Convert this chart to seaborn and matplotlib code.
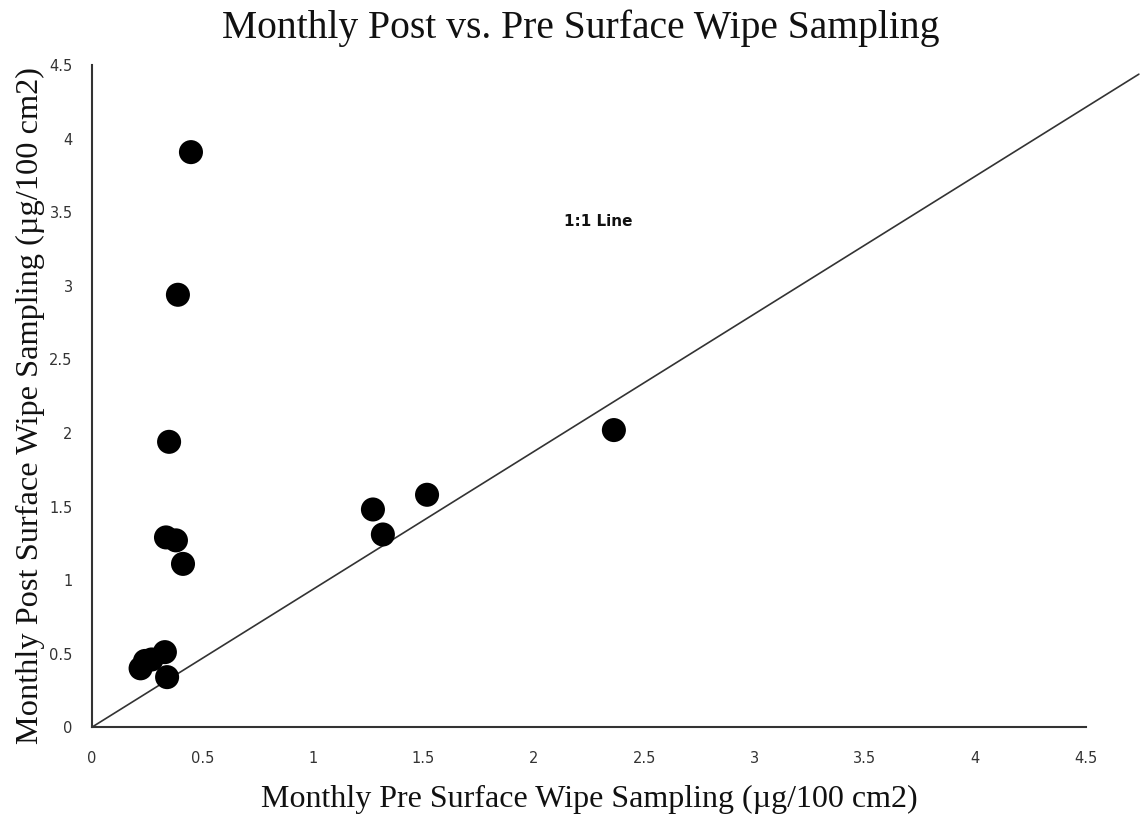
import matplotlib
matplotlib.use("Agg")
import matplotlib.pyplot as plt
import seaborn as sns
import pandas as pd

# Monthly surface wipe results (µg/100 cm2)
pre_values = [0.448, 0.389, 0.349, 0.335, 0.380, 0.412,
              1.272, 1.317, 1.517, 2.363,
              0.220, 0.240, 0.270, 0.330, 0.340]
post_values = [3.91, 2.94, 1.94, 1.29, 1.27, 1.11,
               1.48, 1.31, 1.58, 2.02,
               0.40, 0.45, 0.46, 0.51, 0.34]

# Reference line as drawn on the chart
ref_x = [0.0, 4.74]
ref_y = [0.0, 4.44]

x_ticks = [0, 0.5, 1, 1.5, 2, 2.5, 3, 3.5, 4, 4.5]
y_ticks = [0, 0.5, 1, 1.5, 2, 2.5, 3, 3.5, 4, 4.5]

df = pd.DataFrame({"pre": pre_values, "post": post_values})

sns.set_theme(style="white")
plt.rcParams["font.family"] = ["DejaVu Sans"]

fig = plt.figure(figsize=(11.43, 8.17), dpi=100)
ax = fig.add_axes([0.0805, 0.110, 0.8695, 0.810])

sns.lineplot(x=ref_x, y=ref_y, ax=ax, color="#333333", linewidth=1.2,
             clip_on=False, zorder=2)
sns.scatterplot(data=df, x="pre", y="post", ax=ax, color="black",
                s=300, edgecolor="none", zorder=3, clip_on=False)

ax.set_xlim(0, 4.5)
ax.set_ylim(0, 4.5)
ax.set_xticks(x_ticks)
ax.set_yticks(y_ticks)
ax.set_xticklabels([f"{t:g}" for t in x_ticks], fontsize=10.5, color="#333333")
ax.set_yticklabels([f"{t:g}" for t in y_ticks], fontsize=10.5, color="#333333")
ax.tick_params(axis="x", length=0, pad=17)
ax.tick_params(axis="y", length=0, pad=14)

for side in ["top", "right"]:
    ax.spines[side].set_visible(False)
for side in ["left", "bottom"]:
    ax.spines[side].set_color("#333333")
    ax.spines[side].set_linewidth(1.5)

serif = ["Liberation Serif", "DejaVu Serif"]
ax.set_xlabel("Monthly Pre Surface Wipe Sampling (µg/100 cm2)",
              fontsize=23, family=serif, color="#111111", labelpad=14)
ax.set_ylabel("Monthly Post Surface Wipe Sampling (µg/100 cm2)",
              fontsize=23.3, family=serif, color="#111111", labelpad=3)
ax.yaxis.label.set_y(0.486)
fig.text(0.508, 0.966, "Monthly Post vs. Pre Surface Wipe Sampling",
         ha="center", va="center", fontsize=28.5, family=serif, color="#111111")

ax.text(2.29, 3.44, "1:1 Line", ha="center", va="center",
        fontsize=11, fontweight="bold", color="#111111")

fig.savefig("out.png", dpi=100)
